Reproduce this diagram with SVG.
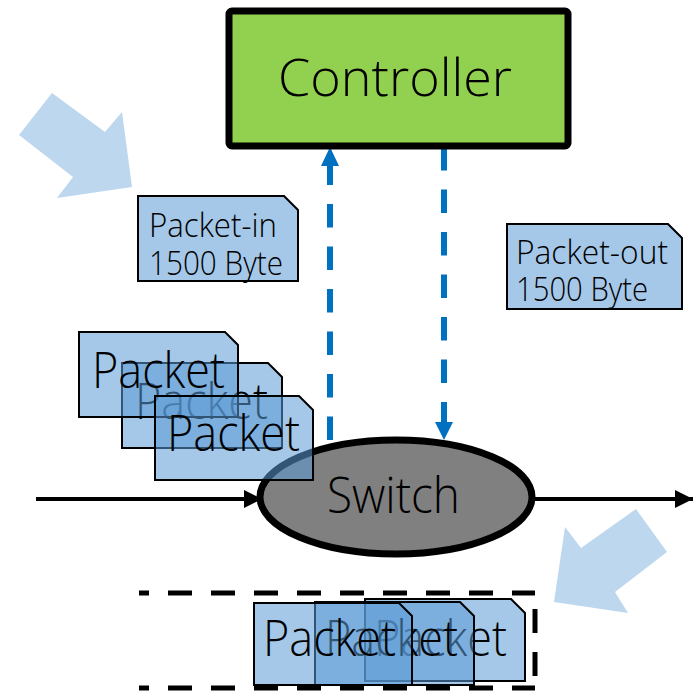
<svg xmlns="http://www.w3.org/2000/svg" width="700" height="694" viewBox="0 0 700 694">
  <style>
    .t { font-family: "Open Sans", "Noto Sans", "DejaVu Sans", sans-serif; font-weight: 300; fill: #000; }
    .big { font-size: 50px; }
    .small { font-size: 33px; }
    .pkt { fill: #5B9BD5; fill-opacity: 0.55; stroke: #000; stroke-width: 2; stroke-linejoin: miter; }
    .hint { fill: #BDD7EE; stroke: none; }
    .flow { stroke: #000; stroke-width: 4; fill: none; }
    .ctl { stroke: #0070C0; stroke-width: 6; fill: none; stroke-dasharray: 23.5 19; }
    .box { stroke: #000; stroke-width: 5; fill: none; stroke-dasharray: 24 19; }
  </style>
  <defs>
    <marker id="blackHead" viewBox="0 0 18 18" refX="18" refY="9" markerWidth="18" markerHeight="18" markerUnits="userSpaceOnUse" orient="auto">
      <path d="M0 0 L18 9 L0 18 Z" fill="#000"/>
    </marker>
  </defs>

  <rect width="700" height="694" fill="#fff"/>

  <!-- decorative pointer arrows -->
  <g id="pointers">
    <polygon class="hint" points="52,93 105,132 122,112 132,187 57,198 73,177 19,135"/>
    <polygon class="hint" points="636,509 667,552 615,592 628,613 554,602 565,527 581,548"/>
  </g>

  <!-- buffer outline (open on the left) -->
  <g id="buffer">
    <line class="box" x1="139" y1="593" x2="535" y2="593" stroke-dashoffset="14"/>
    <line class="box" x1="535" y1="593" x2="535" y2="688" stroke-dashoffset="27"/>
    <line class="box" x1="139" y1="688" x2="535" y2="688" stroke-dashoffset="14"/>
  </g>

  <!-- connectors -->
  <g id="connectors">
    <line class="flow" x1="36" y1="499" x2="262" y2="499" marker-end="url(#blackHead)"/>
    <line class="flow" x1="535" y1="499" x2="693" y2="499" marker-end="url(#blackHead)"/>
    <!-- packet-in towards controller -->
    <line class="ctl" x1="330" y1="440" x2="330" y2="165"/>
    <polygon points="330,147 339,166 321,166" fill="#0070C0"/>
    <!-- packet-out towards switch -->
    <line class="ctl" x1="444" y1="147" x2="444" y2="423"/>
    <polygon points="444,440 453,422 435,422" fill="#0070C0"/>
  </g>

  <g id="controller">
    <rect x="229" y="11" width="339" height="135" rx="3" fill="#92D050" stroke="#000" stroke-width="7"/>
    <text class="t" x="278" y="96" font-size="52" textLength="234" lengthAdjust="spacingAndGlyphs">Controller</text>
  </g>

  <g id="switch">
    <ellipse cx="396" cy="497" rx="136" ry="57" fill="#808080" stroke="#000" stroke-width="7"/>
    <text class="t big" x="327" y="513" textLength="133" lengthAdjust="spacingAndGlyphs">Switch</text>
  </g>

  <g id="packet-in">
    <path class="pkt" d="M138 196 H284 L298 210 V281 H138 Z"/>
    <text class="t small" x="149" y="237" textLength="128" lengthAdjust="spacingAndGlyphs">Packet-in</text>
    <text class="t small" x="149" y="275" textLength="134" lengthAdjust="spacingAndGlyphs">1500 Byte</text>
  </g>

  <g id="packet-out">
    <path class="pkt" d="M507 224 H668 L682 238 V309 H507 Z"/>
    <text class="t small" x="516" y="264" textLength="152" lengthAdjust="spacingAndGlyphs">Packet-out</text>
    <text class="t small" x="516" y="301" textLength="132" lengthAdjust="spacingAndGlyphs">1500 Byte</text>
  </g>

  <!-- incoming packet queue -->
  <g id="queue">
    <g id="queue-2">
      <path class="pkt" d="M122 363 H268 L282 377 V448 H122 Z"/>
      <text class="t big" x="135" y="419" textLength="133" lengthAdjust="spacingAndGlyphs">Packet</text>
    </g>
    <g id="queue-1">
      <path class="pkt" d="M79 332 H225 L238 345 V417 H79 Z"/>
      <text class="t big" x="92" y="388" textLength="133" lengthAdjust="spacingAndGlyphs">Packet</text>
    </g>
    <g id="queue-3">
      <path class="pkt" d="M155 396 H299 L313 410 V480 H155 Z"/>
      <text class="t big" x="167" y="451" textLength="133" lengthAdjust="spacingAndGlyphs">Packet</text>
    </g>
  </g>

  <!-- buffered packets -->
  <g id="buffered">
    <g id="buffered-3">
      <path class="pkt" d="M365 599 H511 L525 613 V681 H365 Z"/>
      <text class="t big" x="374" y="656" textLength="133" lengthAdjust="spacingAndGlyphs">Packet</text>
    </g>
    <g id="buffered-2">
      <path class="pkt" d="M315 602 H460 L474 616 V685 H315 Z"/>
      <text class="t big" x="325" y="656" textLength="133" lengthAdjust="spacingAndGlyphs">Packet</text>
    </g>
    <g id="buffered-1">
      <path class="pkt" d="M254 603 H399 L412 616 V685 H254 Z"/>
      <text class="t big" x="263" y="656" textLength="133" lengthAdjust="spacingAndGlyphs">Packet</text>
    </g>
  </g>
</svg>
